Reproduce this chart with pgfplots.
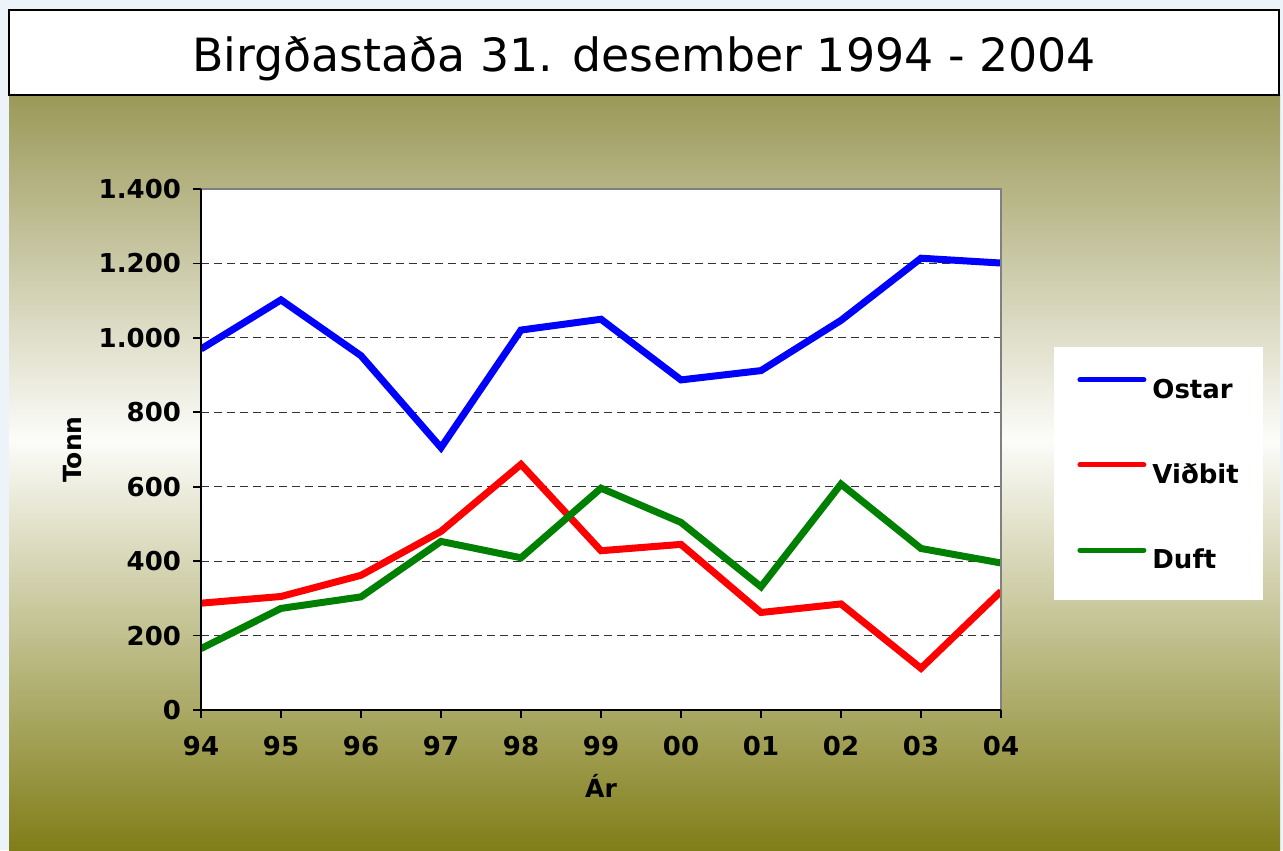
\documentclass[border=0pt]{standalone}
\usepackage{fontspec}
\setmainfont{DejaVu Sans}
\usepackage{pgfplots}
\pgfplotsset{compat=1.18}
\definecolor{bgblue}{RGB}{236,244,250}
\definecolor{olivetop}{RGB}{155,153,88}
\definecolor{olivebot}{RGB}{128,126,24}
\definecolor{midwhite}{RGB}{252,252,250}
\definecolor{cOstar}{RGB}{0,0,255}
\definecolor{cVidbit}{RGB}{255,0,0}
\definecolor{cDuft}{RGB}{0,128,0}
\begin{document}
\begin{tikzpicture}[x=0.5pt,y=0.5pt]
% background (pixel units, y measured from bottom)
\fill[bgblue] (0,0) rectangle (1283,850);
\shade[top color=olivetop, bottom color=midwhite] (9,755) rectangle (1280,410);
\shade[top color=midwhite, bottom color=olivebot] (9,410.5) rectangle (1280,0);
% title box
\draw[line width=1pt, fill=white] (9,840) rectangle (1279,755);
\node[anchor=base, font=\fontsize{22.9}{27}\selectfont] at (644,778) {Birgðastaða 31. desember 1994 - 2004};
% legend box
\fill[white] (1054,503) rectangle (1263,250);
\begin{axis}[
  at={(100.5pt,70pt)}, anchor=south west,
  scale only axis, width=400pt, height=260.5pt,
  xmin=0, xmax=10, ymin=0, ymax=1400,
  xtick={0,...,10},
  xticklabels={94,95,96,97,98,99,00,01,02,03,04},
  ytick={0,200,...,1400},
  ymajorgrids,
  major grid style={dash pattern=on 4pt off 2.5pt, black!80, line width=0.5pt},
  axis line style={draw=none},
  axis background/.style={fill=white},
  tick align=outside, major tick length=4pt,
  xtick pos=left, ytick pos=left,
  tick style={black, line width=0.8pt},
  ticklabel style={font=\bfseries\fontsize{13}{15}\selectfont},
  xticklabel style={yshift=-5.5pt},
  yticklabel style={xshift=-2.5pt},
  xlabel={Ár}, ylabel={Tonn},
  label style={font=\bfseries\fontsize{12.5}{14}\selectfont},
  xlabel style={at={(axis description cs:0.5,-0.146)}, anchor=center},
  ylabel style={at={(axis description cs:-0.16,0.5)}, anchor=center},
  clip mode=individual,
  legend style={at={(1.095,0.4549)}, anchor=west, draw=none, fill=none,
    inner sep=0pt, row sep=32pt, column sep=3pt,
    font=\bfseries\fontsize{13}{15}\selectfont,
    nodes={inner sep=0pt, text height=9.4pt, text depth=0pt}},
  legend cell align=left,
  legend image code/.code={\draw[#1, line width=2.5pt, line cap=round] (1.25pt,4.6pt) -- (33.25pt,4.6pt);},
  /pgf/number format/1000 sep={.},
  /pgf/number format/assume math mode=true,
]
\addplot[cOstar, line width=3.5pt] coordinates {
(0,970) (1,1102) (2,952) (3,705) (4,1021) (5,1050) (6,887) (7,912) (8,1047) (9,1214) (10,1201)};
\addlegendentry{Ostar}
\addplot[cVidbit, line width=3.5pt] coordinates {
(0,287) (1,305) (2,362) (3,480) (4,660) (5,428) (6,445) (7,262) (8,285) (9,112) (10,319)};
\addlegendentry{Viðbit}
\addplot[cDuft, line width=3.5pt] coordinates {
(0,165) (1,273) (2,304) (3,453) (4,409) (5,596) (6,504) (7,331) (8,607) (9,434) (10,395)};
\addlegendentry{Duft}
\draw[black!50, line width=0.75pt] (rel axis cs:0,1) -- (rel axis cs:1,1) -- (rel axis cs:1,0);
\draw[black, line width=1pt] (rel axis cs:0,1) -- (rel axis cs:0,0) -- (rel axis cs:1,0);
\end{axis}
\end{tikzpicture}
\end{document}
